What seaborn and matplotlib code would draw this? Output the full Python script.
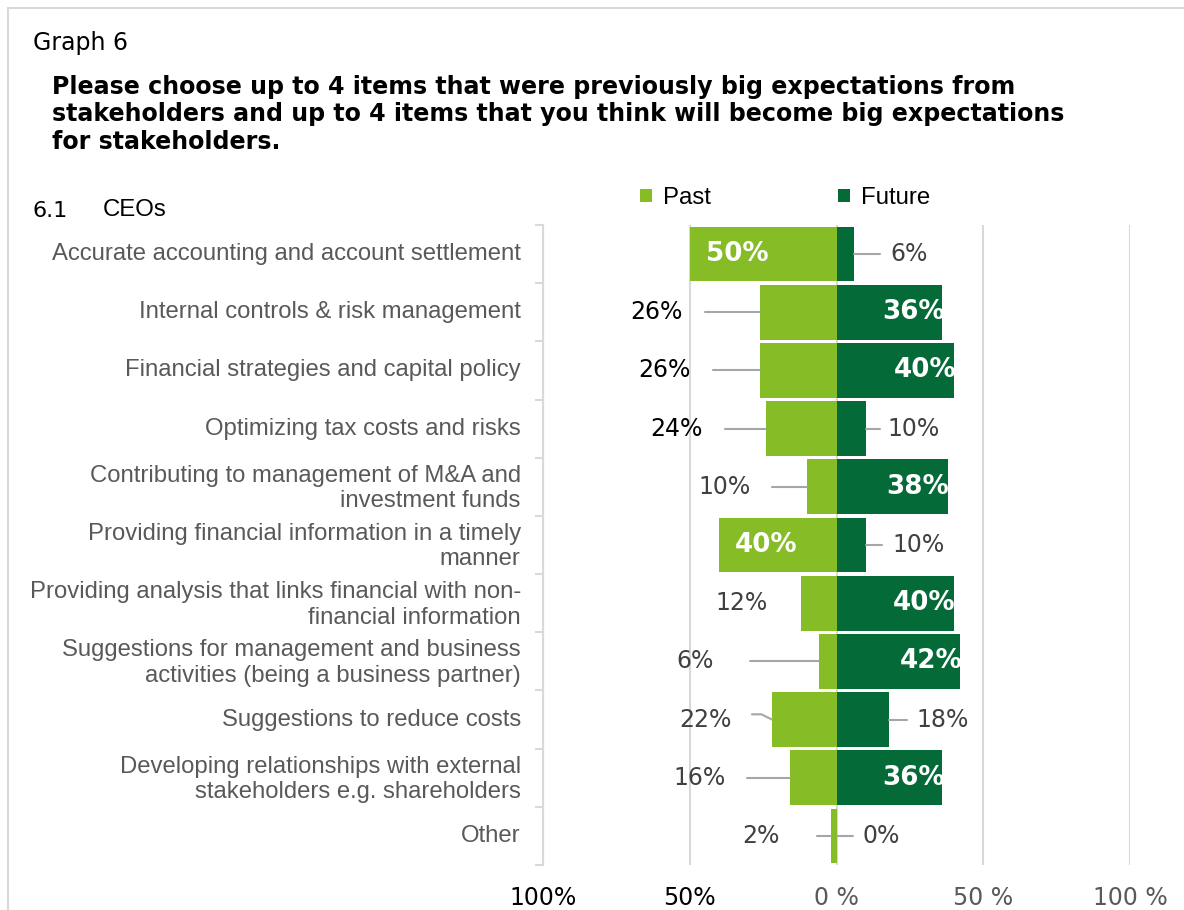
import matplotlib
matplotlib.use("Agg")
import matplotlib.pyplot as plt
import matplotlib.transforms as mtransforms
from matplotlib.lines import Line2D
from matplotlib.patches import Patch
import pandas as pd
import seaborn as sns

# ---- data -------------------------------------------------------------
items = [
    "Accurate accounting and account settlement",
    "Internal controls & risk management",
    "Financial strategies and capital policy",
    "Optimizing tax costs and risks",
    "Contributing to management of M&A and\ninvestment funds",
    "Providing financial information in a timely\nmanner",
    "Providing analysis that links financial with non-\nfinancial information",
    "Suggestions for management and business\nactivities (being a business partner)",
    "Suggestions to reduce costs",
    "Developing relationships with external\nstakeholders e.g. shareholders",
    "Other",
]
past = [50, 26, 26, 24, 10, 40, 12, 6, 22, 16, 2]
future = [6, 36, 40, 10, 38, 10, 40, 42, 18, 36, 0]
periods = ["Past", "Future"]
x_ticks = [-100, -50, 0, 50, 100]
x_ticklabels = ["100%", "50%", "0 %", "50 %", "100 %"]

# ---- label layout (annotation placement, in axis units) -----------------
# (style, text x, leader end x)  style: 'in' = inside bar, 'out' = outside
past_layout = [
    ("in", -44.5, None), ("out", -52.3, -44.8), ("out", -49.6, -42.1),
    ("out", -45.5, -38.0), ("out", -29.1, -22.0), ("in", -34.6, None),
    ("out", -23.3, None), ("out", -41.7, -29.5), ("out", -35.9, -28.8),
    ("out", -37.6, -30.5), ("out", -19.3, -6.6),
]
future_layout = [
    ("out", 18.2, 14.8), ("in", 37.0, None), ("in", 40.7, None),
    ("out", 17.5, 14.8), ("in", 38.2, None), ("out", 18.9, 15.5),
    ("in", 40.5, None), ("in", 42.8, None), ("out", 27.4, 24.0),
    ("in", 36.9, None), ("out", 8.7, 5.6),
]
dark_past_rows = {1, 2, 3}

# ---- style --------------------------------------------------------------
sns.set_theme(style="white")
plt.rcParams["font.family"] = ["DejaVu Sans"]
plt.rcParams["text.color"] = "black"
LIGHT = "#86BC25"
DARK = "#046A38"
GRID = "#d9d9d9"
LEADER = "#a6a6a6"
GREY_TXT = "#595959"
LBL_TXT = "#404040"

fig = plt.figure(figsize=(11.84, 9.10), dpi=100)
ax = fig.add_axes([543 / 1184, 45 / 910, 587 / 1184, 640 / 910])

df = pd.DataFrame({
    "item": items * 2,
    "share": [-v for v in past] + future,
    "period": [periods[0]] * len(items) + [periods[1]] * len(items),
})
sns.barplot(data=df, x="share", y="item", hue="period", dodge=False,
            palette={"Past": LIGHT, "Future": DARK}, width=0.94,
            orient="h", legend=False, ax=ax, saturation=1,
            linewidth=0, zorder=3)

ax.set_xlim(-100, 100)
ax.set_ylim(len(items) - 0.5, -0.5)
ax.set_xlabel("")
ax.set_ylabel("")

# axes frame and gridlines
for s in ("top", "right", "bottom"):
    ax.spines[s].set_visible(False)
ax.spines["left"].set_color(GRID)
ax.spines["left"].set_linewidth(1.5)
ax.set_axisbelow(True)
ax.grid(axis="x", color=GRID, linewidth=1.5)
ax.grid(axis="y", visible=False)

ax.set_xticks(x_ticks)
ax.set_xticklabels(x_ticklabels, fontsize=17)
for lab, c in zip(ax.get_xticklabels(), ["black", "black", GREY_TXT, GREY_TXT, GREY_TXT]):
    lab.set_color(c)
ax.tick_params(axis="x", length=0, pad=15)

ax.set_yticks(range(len(items)))
ax.set_yticklabels(items, fontsize=17.2, color=GREY_TXT,
                   family=["Liberation Sans", "DejaVu Sans"], linespacing=1.2)
ax.set_yticks([i - 0.5 for i in range(len(items) + 1)], minor=True)
ax.tick_params(axis="y", which="major", length=0, pad=16)
ax.tick_params(axis="y", which="minor", length=6, width=1.5, color=GRID, left=True)
# nudge category labels up slightly
lift = mtransforms.ScaledTranslation(0, 2.5 / 100, fig.dpi_scale_trans)
for lab in ax.get_yticklabels():
    lab.set_transform(lab.get_transform() + lift)

# ---- value labels and leader lines ------------------------------------
FS = 17
FS_BOLD = 18.8
for i, (v, (style, tx, lx)) in enumerate(zip(past, past_layout)):
    if style == "in":
        ax.text(tx, i, f"{v}%", ha="left", va="center", color="white",
                fontsize=FS_BOLD, fontweight="bold", zorder=5)
    else:
        col = "black" if i in dark_past_rows else LBL_TXT
        ax.text(tx, i, f"{v}%", ha="right", va="center", color=col,
                fontsize=FS, zorder=5)
        if lx is not None:
            if i == 8:
                ax.plot([lx, -25.6, -v], [i - 0.09, i - 0.09, i],
                        color=LEADER, lw=1.5, zorder=4)
            else:
                ax.plot([lx, -v], [i, i], color=LEADER, lw=1.5, zorder=4)

for i, (v, (style, tx, lx)) in enumerate(zip(future, future_layout)):
    if style == "in":
        ax.text(tx, i, f"{v}%", ha="right", va="center", color="white",
                fontsize=FS_BOLD, fontweight="bold", zorder=5)
    else:
        ax.text(tx, i, f"{v}%", ha="left", va="center", color=LBL_TXT,
                fontsize=FS, zorder=5)
        if lx is not None:
            ax.plot([v, lx], [i, i], color=LEADER, lw=1.5, zorder=4)

# ---- legend -----------------------------------------------------------
handles = [Patch(facecolor=LIGHT, edgecolor="none", label=periods[0]),
           Patch(facecolor=DARK, edgecolor="none", label=periods[1])]
fig.legend(handles=handles, loc="center", bbox_to_anchor=(785 / 1184, 1 - 198 / 910),
           ncol=2, frameon=False, handlelength=0.5, handleheight=0.5,
           handletextpad=0.45, columnspacing=5.3,
           prop={"family": ["Liberation Sans", "DejaVu Sans"], "size": 17.3})

# ---- headings ---------------------------------------------------------
fig.text(33 / 1184, 1 - 43 / 910, "Graph 6", fontsize=17, va="center", ha="left")
fig.text(52 / 1184, 1 - 114.5 / 910,
         "Please choose up to 4 items that were previously big expectations from\n"
         "stakeholders and up to 4 items that you think will become big expectations\n"
         "for stakeholders.",
         fontsize=17.1, fontweight="bold", va="center", ha="left", linespacing=1.21)
fig.text(33 / 1184, 1 - 211 / 910, "6.1", fontsize=16, va="center", ha="left")
fig.text(103 / 1184, 1 - 210 / 910, "CEOs", fontsize=17.3, va="center", ha="left",
         family=["Liberation Sans", "DejaVu Sans"])

# outer panel border
fig.add_artist(Line2D([8 / 1184, 1], [1 - 8 / 910, 1 - 8 / 910],
                      transform=fig.transFigure, color=GRID, lw=1.5))
fig.add_artist(Line2D([8 / 1184, 8 / 1184], [0, 1 - 8 / 910],
                      transform=fig.transFigure, color=GRID, lw=1.5))

fig.savefig("out.png", dpi=100)
